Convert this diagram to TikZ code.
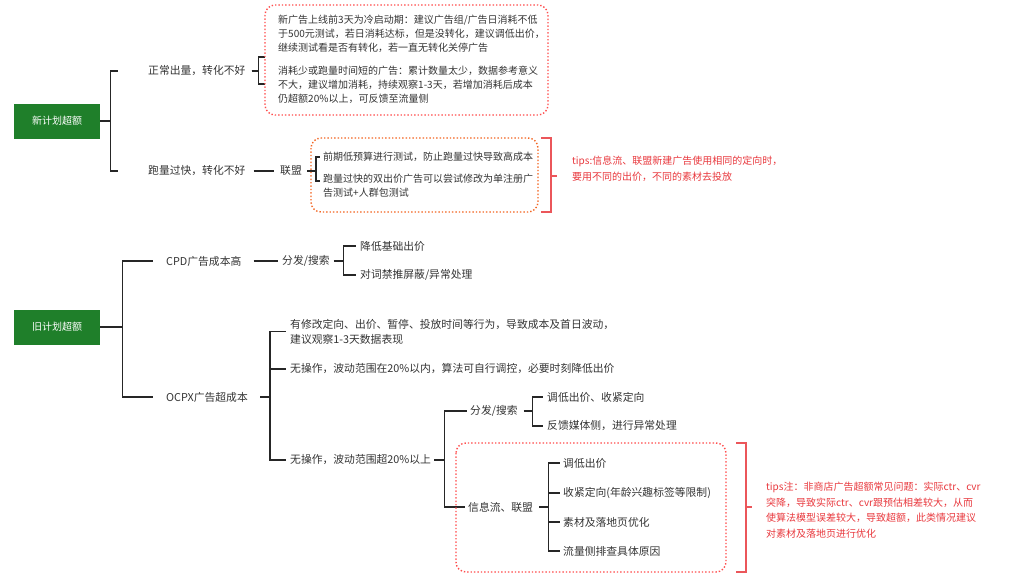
\documentclass[tikz,border=0pt]{standalone}
\usepackage{fontspec}
\setmainfont{Noto Sans CJK SC}
\definecolor{rootgreen}{HTML}{1F7F2A}
\definecolor{boxred}{HTML}{FF4D4D}
\definecolor{boxorange}{HTML}{F26522}
\definecolor{tipred}{HTML}{E8383D}
\begin{document}
\begin{tikzpicture}
 [x=1pt,y=-1pt,
  every node/.style={inner sep=0pt,font=\fontsize{10}{14}\selectfont,text=black!80},
  lbl/.style={anchor=west,font=\fontsize{10.8}{14}\selectfont},
  para/.style={anchor=north west,align=left},
  root/.style={fill=rootgreen,text=white,minimum width=86pt,minimum height=35pt},
  br/.style={line width=1.1pt,black!85},
  dotbox/.style={line width=1.4pt,dotted,rounded corners=10pt},
  tip/.style={anchor=west,align=left,text=tipred,font=\fontsize{10}{15.5}\selectfont},
  brace/.style={line width=2.4pt,tipred!85}]
 \useasboundingbox (0,0) rectangle (1013,581);
  % roots
  \node[root] (new) at (57,121) {新计划超额};
  \node[root] (old) at (57,327) {旧计划超额};
  % new plan
  \node[lbl] (normal) at (148,71) {正常出量，转化不好};
  \node[lbl] (fast) at (148,171) {跑量过快，转化不好};
  \node[para] (cold) at (278,15) {新广告上线前3天为冷启动期：建议广告组/广告日消耗不低\\于500元测试，若日消耗达标，但是没转化，建议调低出价，\\继续测试看是否有转化，若一直无转化关停广告};
  \node[para] (less) at (278,66) {消耗少或跑量时间短的广告：累计数量太少，数据参考意义\\不大，建议增加消耗，持续观察1-3天，若增加消耗后成本\\仍超额20\%以上，可反馈至流量侧};
  \coordinate (cold-in) at (265,57);
  \coordinate (less-in) at (265,84);
  \node[lbl] (union) at (280,171) {联盟};
  \node[anchor=west] (low) at (323,157) {前期低预算进行测试，防止跑量过快导致高成本};
  \node[para] (dual) at (323,174) {跑量过快的双出价广告可以尝试修改为单注册广\\告测试+人群包测试};
  \draw[br] (new.east) -- ++(10,0) |- ([xshift=-30]normal.west);
  \draw[br] (new.east) -- ++(10,0) |- ([xshift=-30]fast.west);
  \draw[br] (normal.east) ++(6,0) -- ++(7,0) |- (cold-in);
  \draw[br] (normal.east) ++(6,0) -- ++(7,0) |- (less-in);
  \draw[br] ([xshift=8]fast.east) -- ([xshift=-6]union.west);
  \draw[br] ([xshift=5]union.east) -- ++(9,0) |- ([xshift=-3]low.west);
  \draw[br] ([xshift=5]union.east) -- ++(9,0) |- ([xshift=-3,yshift=-7]dual.north west);
  \draw[dotbox,boxred] (265,5) rectangle (548,115);
  \draw[dotbox,boxorange] (311,138) rectangle (538,212);
  \draw[brace] (541,138) -- (551,138) -- (551,212) -- (541,212) (551,176) -- (557,176);
  \node[tip] (tip1) at (572,169) {tips:信息流、联盟新建广告使用相同的定向时，\\要用不同的出价，不同的素材去投放};
  % old plan
  \node[lbl] (cpd) at (166,261) {CPD广告成本高};
  \node[lbl] (ocpx) at (166,397) {OCPX广告超成本};
  \node[lbl] (cpd-dist) at (282,261) {分发/搜索};
  \node[lbl] (cpd-low) at (360,246) {降低基础出价};
  \node[lbl] (cpd-ban) at (360,275) {对词禁推屏蔽/异常处理};
  \node[para,font=\fontsize{10.8}{15}\selectfont] (modify) at (290,319) {有修改定向、出价、暂停、投放时间等行为，导致成本及首日波动，\\建议观察1-3天数据表现};
  \node[lbl] (within) at (290,369) {无操作，波动范围在20\%以内，算法可自行调控，必要时刻降低出价};
  \node[lbl] (over) at (290,460) {无操作，波动范围超20\%以上};
  \node[lbl] (dist) at (470,411) {分发/搜索};
  \node[lbl] (feed) at (468,507) {信息流、联盟};
  \node[lbl] (d1) at (547,397) {调低出价、收紧定向};
  \node[lbl] (d2) at (547,426) {反馈媒体侧，进行异常处理};
  \node[lbl] (f1) at (563,463) {调低出价};
  \node[lbl] (f2) at (563,493) {收紧定向(年龄兴趣标签等限制)};
  \node[lbl] (f3) at (563,522) {素材及落地页优化};
  \node[lbl] (f4) at (563,551) {流量侧排查具体原因};
  \draw[br] (old.east) -- ++(22,0) |- ([xshift=-13]cpd.west);
  \draw[br] (old.east) -- ++(22,0) |- ([xshift=-13]ocpx.west);
  \draw[br] ([xshift=12]cpd.east) -- ([xshift=-4]cpd-dist.west);
  \foreach \to in {cpd-low,cpd-ban}
    \draw[br] ([xshift=4]cpd-dist.east) -- ++(10,0) |- ([xshift=-4]\to.west);
  \foreach \to in {modify,within,over}
    \draw[br] ([xshift=12]ocpx.east) -- ++(10,0) |- ([xshift=-4]\to.west);
  \foreach \to in {dist,feed}
    \draw[br] ([xshift=3]over.east) -- ++(10,0) |- ([xshift=-3]\to.west);
  \foreach \to in {d1,d2}
    \draw[br] ([xshift=6]dist.east) -- ++(9,0) |- ([xshift=-4]\to.west);
  \foreach \to in {f1,f2,f3,f4}
    \draw[br] ([xshift=6]feed.east) -- ++(9,0) |- ([xshift=-3]\to.west);
  \draw[dotbox,boxred] (456,443) rectangle (726,572);
  \draw[brace] (736,443) -- (746,443) -- (746,572) -- (736,572) (746,507) -- (752,507);
  \node[tip] (tip2) at (766,510) {tips注：非商店广告超额常见问题：实际ctr、cvr\\突降，导致实际ctr、cvr跟预估相差较大，从而\\使算法模型误差较大，导致超额，此类情况建议\\对素材及落地页进行优化};
\end{tikzpicture}
\end{document}
